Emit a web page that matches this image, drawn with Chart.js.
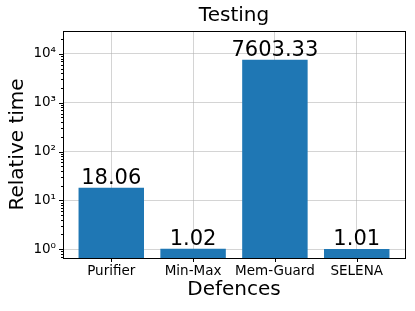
<!DOCTYPE html>
<html>
<head>
<meta charset="utf-8">
<script src="https://cdn.jsdelivr.net/npm/chart.js@4.4.0/dist/chart.umd.min.js"></script>
<style>
  html, body { margin: 0; padding: 0; background: #fff; }
</style>
</head>
<body>
<canvas id="chart" width="415" height="311"></canvas>
<script>
// --- data ---
const defences = ["Purifier", "Min-Max", "Mem-Guard", "SELENA"];
const relTime = [18.06, 1.02, 7603.33, 1.01];
const valueLabels = ["18.06", "1.02", "7603.33", "1.01"];
const yMajorTicks = [1, 10, 100, 1000, 10000];
const yTickLabels = ["10⁰", "10¹", "10²", "10³", "10⁴"];
const yRange = [0.66, 29500];
const xRange = [-0.59, 3.59];

const FONT = "'DejaVu Sans', sans-serif";
const gridCol = "rgba(176,176,176,0.55)";

// log ticks: majors plus 2..9 minors inside the range
function buildLogTicks() {
  const out = [];
  [0.1].concat(yMajorTicks).forEach((m) => {
    if (m >= yRange[0] && m <= yRange[1]) out.push({ value: m, major: true });
    for (let k = 2; k <= 9; k++) {
      const v = m * k;
      if (v >= yRange[0] && v <= yRange[1]) out.push({ value: v, major: false });
    }
  });
  return out.sort((a, b) => a.value - b.value);
}

// frame, tick marks and bar value labels
const extras = {
  id: "extras",
  afterDraw(chart) {
    const { ctx, chartArea: a } = chart;
    const xs = chart.scales.x, ys = chart.scales.y;
    ctx.save();
    ctx.strokeStyle = "#000";
    ctx.lineWidth = 1;
    ctx.beginPath();
    ys.ticks.forEach((t) => {
      const y = Math.round(ys.getPixelForValue(t.value)) + 0.5;
      const len = t.major ? 4 : 2;
      ctx.moveTo(a.left - len, y);
      ctx.lineTo(a.left, y);
    });
    xs.ticks.forEach((t) => {
      const x = Math.round(xs.getPixelForValue(t.value)) + 0.5;
      ctx.moveTo(x, a.bottom);
      ctx.lineTo(x, a.bottom + 4);
    });
    ctx.stroke();
    ctx.strokeRect(Math.round(a.left) + 0.5, Math.round(a.top) + 0.5,
      Math.round(a.right - a.left), Math.round(a.bottom - a.top));

    const meta = chart.getDatasetMeta(0);
    ctx.fillStyle = "#000";
    ctx.font = "21px " + FONT;
    ctx.textAlign = "center";
    ctx.textBaseline = "alphabetic";
    meta.data.forEach((bar, i) => {
      ctx.fillText(valueLabels[i], bar.x, bar.y - 4);
    });
    ctx.restore();
  },
};

Chart.defaults.font.family = FONT;
Chart.defaults.color = "#000";

new Chart(document.getElementById("chart"), {
  type: "bar",
  data: {
    datasets: [{
      data: relTime.map((v, i) => ({ x: i, y: v })),
      backgroundColor: "#1f77b4",
      borderWidth: 0,
      barPercentage: 0.8,
      categoryPercentage: 1.0,
    }],
  },
  options: {
    responsive: false,
    animation: false,
    devicePixelRatio: 1,
    layout: { padding: { left: 0, right: 10, top: 0, bottom: 0 } },
    plugins: {
      legend: { display: false },
      tooltip: { enabled: false },
      title: {
        display: true,
        text: "Testing",
        fullSize: false,
        color: "#000",
        font: { size: 20, weight: "normal" },
        padding: { top: 4, bottom: 3 },
      },
    },
    scales: {
      x: {
        type: "linear",
        min: xRange[0],
        max: xRange[1],
        offset: false,
        z: 1,
        afterBuildTicks: (s) => { s.ticks = defences.map((_, i) => ({ value: i })); },
        afterFit: (s) => { s.height = 53; },
        ticks: {
          callback: (v) => defences[v] ?? "",
          font: { size: 13.5 },
          color: "#000",
          padding: 5,
          autoSkip: false,
          maxRotation: 0,
        },
        grid: { color: gridCol, lineWidth: 1, drawTicks: false, offset: false },
        border: { display: false },
        title: {
          display: true,
          text: "Defences",
          color: "#000",
          font: { size: 20 },
          padding: { top: 0, bottom: 9 },
        },
      },
      y: {
        type: "logarithmic",
        min: yRange[0],
        max: yRange[1],
        z: 1,
        afterBuildTicks: (s) => { s.ticks = buildLogTicks(); },
        afterFit: (s) => { s.width = 63; },
        ticks: {
          callback: function (v) {
            const i = yMajorTicks.indexOf(v);
            return i >= 0 ? yTickLabels[i] : "";
          },
          font: { size: 13.5 },
          color: "#000",
          padding: 7,
          autoSkip: false,
        },
        grid: {
          color: (c) => (c.tick && c.tick.major ? gridCol : "rgba(0,0,0,0)"),
          lineWidth: 1,
          drawTicks: false,
        },
        border: { display: false },
        title: {
          display: true,
          text: "Relative time",
          color: "#000",
          font: { size: 20 },
          padding: { top: 6, bottom: 0 },
        },
      },
    },
  },
  plugins: [extras],
});
</script>
</body>
</html>
